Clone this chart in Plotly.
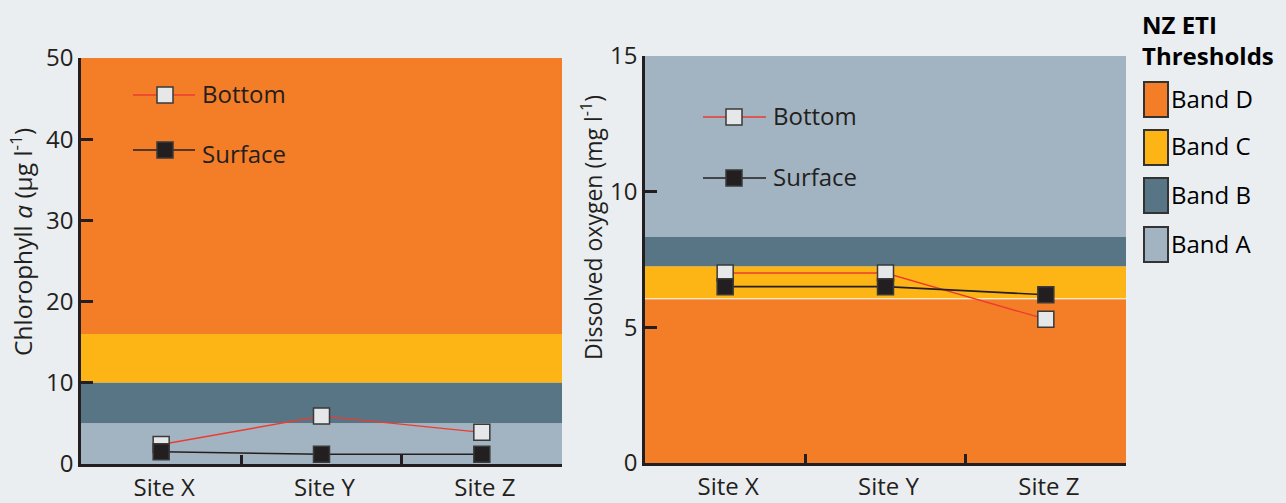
import plotly.graph_objects as go

# ---- data -------------------------------------------------------------
sites = ["Site X", "Site Y", "Site Z"]

chl_bottom = [2.4, 5.9, 3.9]
chl_surface = [1.5, 1.2, 1.2]

do_bottom = [7.0, 7.0, 5.3]
do_surface = [6.5, 6.5, 6.2]

# NZ ETI band limits (lower, upper) for each panel
band_names = ["Band D", "Band C", "Band B", "Band A"]
chl_bands = [(16, 50), (10, 16), (5, 10), (0, 5)]
do_bands = [(0, 6.05), (6.05, 7.25), (7.25, 8.35), (8.35, 15)]

chl_ticks = [0, 10, 20, 30, 40, 50]
do_ticks = [0, 5, 10, 15]

# ---- styling ------------------------------------------------------------
W, H = 1286, 503
BG = "#EAEEF1"
INK = "#231F20"
RED = "#EE3B30"
WHITE_MK = "#E6E7E8"
band_colors = {"Band D": "#F47D27", "Band C": "#FDB515",
               "Band B": "#587586", "Band A": "#A2B4C1"}
FONT = "Open Sans"


def px_x(x):
    return x / W


def px_y(y):
    return 1 - y / H


fig = go.Figure()


def add_series(xa, ya, bottom, surface):
    fig.add_trace(go.Scatter(
        x=sites, y=bottom, xaxis=xa, yaxis=ya, mode="lines+markers",
        line=dict(color=RED, width=1.4),
        marker=dict(symbol="square", size=16, color=WHITE_MK,
                    line=dict(color="#3A3A3A", width=1.5)),
        showlegend=False, name="Bottom"))
    fig.add_trace(go.Scatter(
        x=sites, y=surface, xaxis=xa, yaxis=ya, mode="lines+markers",
        line=dict(color=INK, width=1.6),
        marker=dict(symbol="square", size=16, color=INK,
                    line=dict(color="#3A3A3A", width=1.5)),
        showlegend=False, name="Surface"))


add_series("x", "y", chl_bottom, chl_surface)
add_series("x2", "y2", do_bottom, do_surface)

shapes = []
for (lo, hi), name in zip(chl_bands, band_names):
    shapes.append(dict(type="rect", xref="x domain", yref="y", x0=0, x1=1,
                       y0=lo, y1=hi, fillcolor=band_colors[name],
                       line=dict(width=0), layer="below"))
for (lo, hi), name in zip(do_bands, band_names):
    shapes.append(dict(type="rect", xref="x2 domain", yref="y2", x0=0, x1=1,
                       y0=lo, y1=hi, fillcolor=band_colors[name],
                       line=dict(width=0), layer="below"))
# thin white rule on top of band D in the oxygen panel
shapes.append(dict(type="line", xref="x2 domain", yref="y2", x0=0, x1=1,
                   y0=do_bands[0][1], y1=do_bands[0][1],
                   line=dict(color="white", width=1), layer="below"))

annotations = []


def series_key(x_line0, x_line1, x_mark, y, text_y, label, line_color, fill, lw):
    shapes.append(dict(type="line", xref="paper", yref="paper",
                       x0=px_x(x_line0), x1=px_x(x_line1), y0=px_y(y), y1=px_y(y),
                       line=dict(color=line_color, width=lw), layer="above"))
    shapes.append(dict(type="rect", xref="paper", yref="paper",
                       x0=px_x(x_mark - 8), x1=px_x(x_mark + 8),
                       y0=px_y(y + 8), y1=px_y(y - 8), fillcolor=fill,
                       line=dict(color="#3A3A3A", width=1.5), layer="above"))
    annotations.append(dict(xref="paper", yref="paper", x=px_x(x_line1 + 5),
                            y=px_y(text_y), text=label, showarrow=False,
                            xanchor="left", yanchor="middle",
                            font=dict(family=FONT, size=24, color=INK)))


series_key(133, 195, 165, 95, 93, "Bottom", RED, WHITE_MK, 1.4)
series_key(133, 195, 165, 150, 153.5, "Surface", INK, INK, 1.6)
series_key(703, 766, 734, 117, 115.5, "Bottom", RED, WHITE_MK, 1.4)
series_key(703, 766, 734, 178, 176.5, "Surface", INK, INK, 1.6)

# threshold key
annotations.append(dict(xref="paper", yref="paper", x=px_x(1140), y=px_y(40),
                        text="<b>NZ ETI<br>Thresholds</b>", showarrow=False,
                        xanchor="left", yanchor="middle", align="left",
                        font=dict(family=FONT, size=24, color="black")))
key_tops = [82, 130, 178, 227]
for top, name in zip(key_tops, band_names):
    shapes.append(dict(type="rect", xref="paper", yref="paper",
                       x0=px_x(1144), x1=px_x(1168), y0=px_y(top + 35), y1=px_y(top),
                       fillcolor=band_colors[name],
                       line=dict(color="#333333", width=2)))
    annotations.append(dict(xref="paper", yref="paper", x=px_x(1169),
                            y=px_y(top + 16), text=name, showarrow=False,
                            xanchor="left", yanchor="middle",
                            font=dict(family=FONT, size=24, color="black")))

# axis titles
annotations.append(dict(xref="paper", yref="paper", x=px_x(22), y=px_y(242),
                        text="Chlorophyll <i>a</i> (μg l<sup>-1</sup>)",
                        textangle=-90, showarrow=False,
                        xanchor="center", yanchor="middle",
                        font=dict(family=FONT, size=24.5, color=INK)))
annotations.append(dict(xref="paper", yref="paper", x=px_x(592), y=px_y(228),
                        text="Dissolved oxygen (mg l<sup>-1</sup>)",
                        textangle=-90, showarrow=False,
                        xanchor="center", yanchor="middle",
                        font=dict(family=FONT, size=23, color=INK)))

axis_common = dict(showline=True, linecolor=INK, linewidth=2.5, showgrid=False,
                   zeroline=False, ticks="inside", tickcolor=INK, tickwidth=2.5,
                   automargin=False,
                   tickfont=dict(family=FONT, size=24, color=INK), fixedrange=True)
x_common = dict(axis_common, type="category", range=[-0.5, 2.5],
                tickson="boundaries", ticklen=9, ticklabelshift=3)

fig.update_layout(
    width=W, height=H, margin=dict(l=0, r=0, t=0, b=0, autoexpand=False),
    paper_bgcolor=BG, plot_bgcolor=BG, showlegend=False,
    xaxis=dict(x_common, domain=[px_x(81), px_x(562)], anchor="y"),
    xaxis2=dict(x_common, domain=[px_x(645), px_x(1126)], anchor="y2"),
    yaxis=dict(axis_common, domain=[px_y(464), px_y(58)], range=[0, 50],
               tickvals=chl_ticks, ticklen=12, anchor="x"),
    yaxis2=dict(axis_common, domain=[px_y(463), px_y(56)], range=[0, 15],
                tickvals=do_ticks, ticklen=12, anchor="x2"),
    shapes=shapes, annotations=annotations,
)

fig.write_html("out.html")
